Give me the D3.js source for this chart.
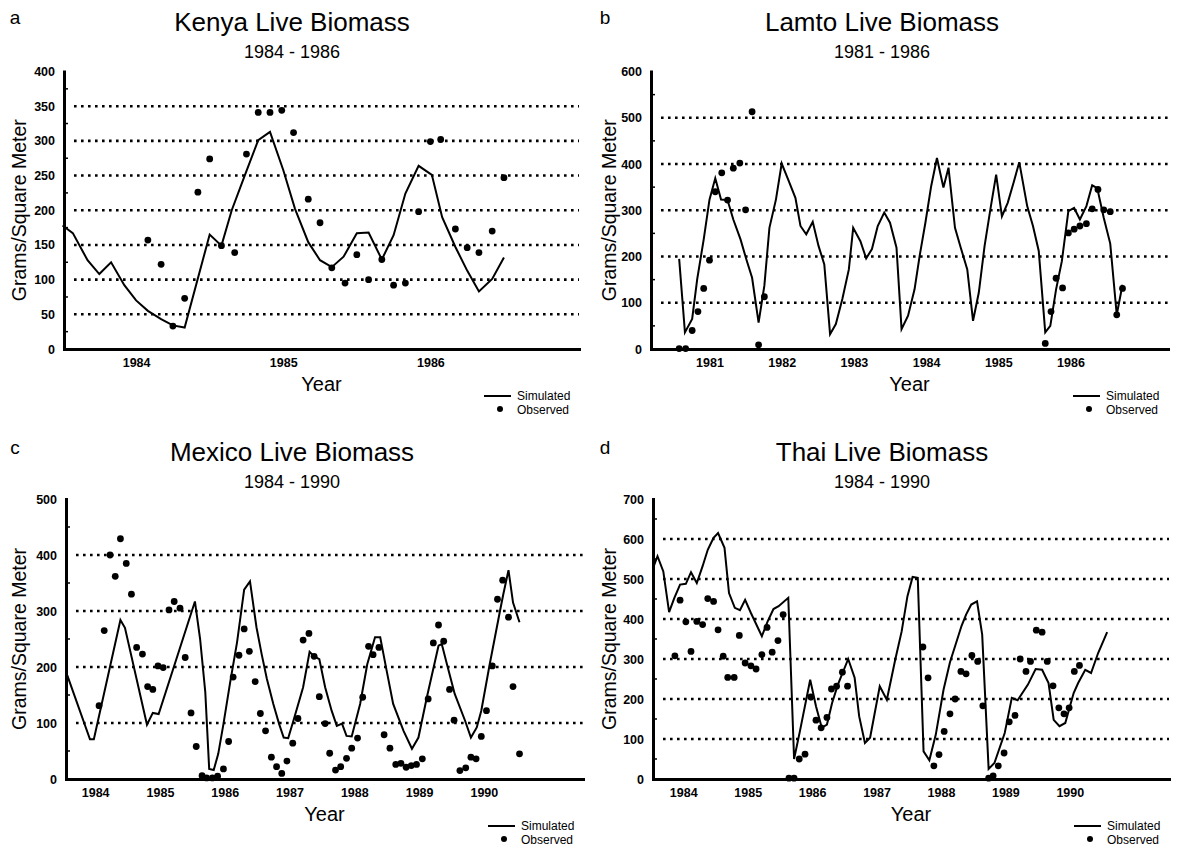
<!DOCTYPE html>
<html>
<head>
<meta charset="utf-8">
<script src="https://cdn.jsdelivr.net/npm/d3@7"></script>
<style>
  body { margin: 0; background: #fff; }
  svg { display: block; font-family: "Liberation Sans", Arial, Helvetica, sans-serif; }
</style>
</head>
<body>
<svg id="chart" width="1181" height="853"></svg>
<script>
// ---------------- data ----------------
// each entry is [decimal year, grams per square meter]

var kenyaSimulated = [[1983.50,178],[1983.57,167],[1983.67,128],[1983.75,108],[1983.83,125],[1983.92,92],[1984.00,70],[1984.08,55],[1984.17,43],[1984.25,34],[1984.33,31],[1984.50,165],[1984.58,149],[1984.65,200],[1984.74,251],[1984.83,301],[1984.91,313],[1985.00,258],[1985.08,202],[1985.17,154],[1985.25,128],[1985.33,118],[1985.41,133],[1985.50,167],[1985.58,168],[1985.67,129],[1985.75,164],[1985.83,224],[1985.92,264],[1986.01,251],[1986.08,190],[1986.17,147],[1986.25,113],[1986.33,83],[1986.42,101],[1986.50,132]];
var kenyaObserved = [[1984.08,157],[1984.17,122],[1984.25,33],[1984.33,73],[1984.42,226],[1984.50,274],[1984.58,149],[1984.67,139],[1984.75,281],[1984.83,341],[1984.91,341],[1984.99,344],[1985.07,312],[1985.17,216],[1985.25,182],[1985.33,117],[1985.42,95],[1985.50,136],[1985.58,100],[1985.67,129],[1985.75,92],[1985.83,95],[1985.92,198],[1986.00,299],[1986.07,302],[1986.17,173],[1986.25,146],[1986.33,139],[1986.42,170],[1986.50,247]];

var lamtoSimulated = [[1980.58,195],[1980.66,36],[1980.76,65],[1980.83,151],[1980.92,237],[1981.00,323],[1981.08,369],[1981.16,323],[1981.25,322],[1981.33,280],[1981.43,237],[1981.51,194],[1981.59,154],[1981.68,57],[1981.76,137],[1981.83,262],[1981.92,323],[1982.00,401],[1982.09,366],[1982.19,327],[1982.26,266],[1982.34,248],[1982.43,275],[1982.51,223],[1982.59,183],[1982.67,32],[1982.75,54],[1982.84,108],[1982.93,172],[1982.99,262],[1983.09,233],[1983.17,196],[1983.25,216],[1983.33,266],[1983.42,295],[1983.50,273],[1983.59,219],[1983.66,43],[1983.75,72],[1983.84,129],[1983.91,201],[1983.99,273],[1984.07,352],[1984.15,413],[1984.24,349],[1984.31,392],[1984.40,262],[1984.48,219],[1984.57,172],[1984.65,61],[1984.73,122],[1984.81,223],[1984.89,302],[1984.97,377],[1985.05,287],[1985.13,316],[1985.21,359],[1985.29,404],[1985.40,309],[1985.48,266],[1985.56,212],[1985.65,36],[1985.72,50],[1985.80,129],[1985.88,190],[1985.97,298],[1986.05,305],[1986.13,280],[1986.22,309],[1986.30,354],[1986.37,348],[1986.46,284],[1986.55,228],[1986.64,74],[1986.72,139]];
var lamtoObserved = [[1980.58,1],[1980.67,1],[1980.76,40],[1980.84,81],[1980.92,131],[1981.00,192],[1981.08,340],[1981.17,381],[1981.25,322],[1981.33,391],[1981.42,402],[1981.50,301],[1981.59,513],[1981.68,9],[1981.76,113],[1985.65,12],[1985.73,81],[1985.80,153],[1985.89,132],[1985.97,251],[1986.05,259],[1986.13,266],[1986.22,271],[1986.30,303],[1986.38,345],[1986.46,301],[1986.55,297],[1986.64,74],[1986.72,131]];

var mexicoSimulated = [[1983.57,185],[1983.92,71],[1983.98,71],[1984.39,284],[1984.46,270],[1984.80,97],[1984.89,118],[1984.98,116],[1985.54,317],[1985.62,250],[1985.70,155],[1985.76,18],[1985.83,16],[1985.90,45],[1985.98,98],[1986.08,170],[1986.19,244],[1986.30,338],[1986.39,353],[1986.49,271],[1986.57,223],[1986.65,179],[1986.75,134],[1986.84,98],[1986.91,74],[1986.98,73],[1987.06,104],[1987.21,164],[1987.31,227],[1987.38,219],[1987.46,214],[1987.55,164],[1987.65,122],[1987.73,95],[1987.81,99],[1987.88,77],[1987.96,76],[1988.09,134],[1988.20,205],[1988.32,253],[1988.40,253],[1988.50,193],[1988.60,134],[1988.76,86],[1988.89,54],[1988.99,74],[1989.12,146],[1989.30,238],[1989.35,241],[1989.43,205],[1989.55,152],[1989.71,104],[1989.80,74],[1989.89,92],[1989.96,122],[1990.09,205],[1990.25,301],[1990.30,330],[1990.38,373],[1990.45,315],[1990.55,280]];
var mexicoObserved = [[1984.06,131],[1984.14,265],[1984.23,400],[1984.31,362],[1984.39,429],[1984.48,385],[1984.56,330],[1984.64,235],[1984.73,223],[1984.81,165],[1984.89,160],[1984.97,202],[1985.05,199],[1985.14,302],[1985.22,317],[1985.31,305],[1985.39,217],[1985.48,118],[1985.56,58],[1985.65,6],[1985.72,2],[1985.81,2],[1985.89,5],[1985.98,18],[1986.06,67],[1986.13,182],[1986.22,221],[1986.30,268],[1986.38,228],[1986.47,174],[1986.55,117],[1986.63,86],[1986.72,39],[1986.80,22],[1986.88,10],[1986.96,32],[1987.05,64],[1987.13,108],[1987.21,248],[1987.30,260],[1987.38,219],[1987.46,147],[1987.55,99],[1987.62,46],[1987.71,16],[1987.79,22],[1987.88,37],[1987.96,55],[1988.05,73],[1988.13,146],[1988.22,237],[1988.29,222],[1988.38,235],[1988.46,79],[1988.55,55],[1988.64,26],[1988.72,28],[1988.80,21],[1988.88,24],[1988.96,26],[1989.05,36],[1989.14,143],[1989.22,243],[1989.30,275],[1989.38,246],[1989.47,160],[1989.54,105],[1989.63,15],[1989.72,20],[1989.80,39],[1989.88,36],[1989.96,76],[1990.04,122],[1990.13,202],[1990.21,321],[1990.29,355],[1990.38,289],[1990.45,165],[1990.55,45]];

var thaiSimulated = [[1983.53,527],[1983.60,557],[1983.69,519],[1983.78,417],[1983.86,452],[1983.95,486],[1984.04,488],[1984.12,517],[1984.21,490],[1984.30,532],[1984.38,573],[1984.47,603],[1984.54,615],[1984.64,578],[1984.71,465],[1984.80,428],[1984.88,422],[1984.96,448],[1985.05,415],[1985.22,357],[1985.31,394],[1985.40,425],[1985.48,432],[1985.63,453],[1985.72,50],[1985.81,119],[1985.97,248],[1986.06,182],[1986.15,128],[1986.23,136],[1986.31,190],[1986.40,236],[1986.56,300],[1986.66,253],[1986.73,157],[1986.82,90],[1986.90,103],[1987.05,232],[1987.16,198],[1987.29,298],[1987.39,369],[1987.48,457],[1987.56,505],[1987.64,503],[1987.73,69],[1987.82,47],[1987.92,111],[1988.04,223],[1988.14,292],[1988.32,383],[1988.39,411],[1988.47,436],[1988.56,444],[1988.64,361],[1988.74,25],[1988.83,40],[1988.99,115],[1989.10,203],[1989.19,197],[1989.35,236],[1989.47,275],[1989.57,273],[1989.67,240],[1989.75,148],[1989.84,132],[1989.93,140],[1990.06,215],[1990.13,240],[1990.24,273],[1990.33,265],[1990.44,315],[1990.58,367]];
var thaiObserved = [[1983.87,308],[1983.95,447],[1984.04,393],[1984.12,319],[1984.21,394],[1984.30,386],[1984.38,451],[1984.47,444],[1984.54,373],[1984.62,307],[1984.69,254],[1984.79,254],[1984.87,359],[1984.96,290],[1985.05,283],[1985.13,275],[1985.22,311],[1985.30,379],[1985.38,317],[1985.47,346],[1985.55,411],[1985.64,2],[1985.72,2],[1985.80,50],[1985.89,62],[1985.98,205],[1986.06,147],[1986.14,128],[1986.23,154],[1986.30,225],[1986.38,232],[1986.47,267],[1986.55,232],[1987.72,330],[1987.80,253],[1987.89,33],[1987.97,61],[1988.05,119],[1988.14,163],[1988.22,200],[1988.31,269],[1988.39,263],[1988.48,309],[1988.57,294],[1988.65,183],[1988.74,2],[1988.81,8],[1988.89,33],[1988.98,65],[1989.06,143],[1989.15,159],[1989.23,300],[1989.32,269],[1989.39,294],[1989.48,372],[1989.57,367],[1989.65,294],[1989.74,233],[1989.83,178],[1989.91,163],[1989.99,178],[1990.07,269],[1990.15,284]];

// tick labels
var kenyaYears = [1984, 1985, 1986];
var lamtoYears = [1981, 1982, 1983, 1984, 1985, 1986];
var mexicoYears = [1984, 1985, 1986, 1987, 1988, 1989, 1990];
var thaiYears = [1984, 1985, 1986, 1987, 1988, 1989, 1990];

var kenyaValueTicks = [0, 50, 100, 150, 200, 250, 300, 350, 400];
var lamtoValueTicks = [0, 100, 200, 300, 400, 500, 600];
var mexicoValueTicks = [0, 100, 200, 300, 400, 500];
var thaiValueTicks = [0, 100, 200, 300, 400, 500, 600, 700];

var kenyaGrid = [50, 100, 150, 200, 250, 300, 350];
var lamtoGrid = [100, 200, 300, 400, 500];
var mexicoGrid = [100, 200, 300, 400];
var thaiGrid = [100, 200, 300, 400, 500, 600];

var kenyaMinor = [25, 75, 125, 175, 225, 275, 325, 375];
var lamtoMinor = [50, 150, 250, 350, 450, 550];
var mexicoMinor = [50, 150, 250, 350, 450];
var thaiMinor = [50, 150, 250, 350, 450, 550, 650];

var svg = d3.select("#chart");
var FONT = '"Liberation Sans", Arial, Helvetica, sans-serif';

// panel geometry (pixels) - kept apart from the data
var panels = [
  {letter: "a", title: "Kenya Live Biomass", sub: "1984 - 1986", ox: 0, oy: 0,
   left: 64, right: 579, bottom: 349, top: 71.5, xDomain: [1983.51, 1987.01], yMax: 400,
   sim: kenyaSimulated, obs: kenyaObserved, years: kenyaYears, yTicks: kenyaValueTicks, grid: kenyaGrid, minor: kenyaMinor},
  {letter: "b", title: "Lamto Live Biomass", sub: "1981 - 1986", ox: 590, oy: 0,
   left: 651, right: 1168, bottom: 349, top: 71.5, xDomain: [1980.19, 1987.35], yMax: 600,
   sim: lamtoSimulated, obs: lamtoObserved, years: lamtoYears, yTicks: lamtoValueTicks, grid: lamtoGrid, minor: lamtoMinor},
  {letter: "c", title: "Mexico Live Biomass", sub: "1984 - 1990", ox: 0, oy: 430,
   left: 66, right: 583, bottom: 779, top: 499, xDomain: [1983.55, 1991.53], yMax: 500,
   sim: mexicoSimulated, obs: mexicoObserved, years: mexicoYears, yTicks: mexicoValueTicks, grid: mexicoGrid, minor: mexicoMinor},
  {letter: "d", title: "Thai Live Biomass", sub: "1984 - 1990", ox: 590, oy: 430,
   left: 653, right: 1169, bottom: 779, top: 499, xDomain: [1983.53, 1991.54], yMax: 700,
   sim: thaiSimulated, obs: thaiObserved, years: thaiYears, yTicks: thaiValueTicks, grid: thaiGrid, minor: thaiMinor}
];

panels.forEach(drawPanel);

function drawPanel(p) {
  var g = svg.append("g");
  var x = d3.scaleLinear().domain(p.xDomain).range([p.left, p.right]);
  var y = d3.scaleLinear().domain([0, p.yMax]).range([p.bottom, p.top]);

  // panel letter, title, subtitle
  g.append("text").attr("x", p.ox + 15).attr("y", p.oy + 24)
    .attr("text-anchor", "middle").style("font-size", "19px").text(p.letter);
  g.append("text").attr("x", p.ox + 292).attr("y", p.oy + 31)
    .attr("text-anchor", "middle").style("font-size", "26px").text(p.title);
  g.append("text").attr("x", p.ox + 292).attr("y", p.oy + 58)
    .attr("text-anchor", "middle").style("font-size", "18px").text(p.sub);

  // dotted gridlines
  g.selectAll(".grid").data(p.grid).enter().append("line")
    .attr("x1", p.left + 10).attr("x2", p.right)
    .attr("y1", function(d) { return y(d); })
    .attr("y2", function(d) { return y(d); })
    .attr("stroke", "#000").attr("stroke-width", 2.6)
    .attr("stroke-dasharray", "2.6,4.4");

  // short inward ticks between the gridlines
  g.selectAll(".minor").data(p.minor).enter().append("line")
    .attr("x1", p.left).attr("x2", p.left + 4)
    .attr("y1", function(d) { return y(d); })
    .attr("y2", function(d) { return y(d); })
    .attr("stroke", "#000").attr("stroke-width", 1.5);

  // y axis
  var yAxis = d3.axisLeft(y).tickValues(p.yTicks).tickSize(0).tickSizeOuter(0)
    .tickPadding(9).tickFormat(d3.format("d"));
  var ya = g.append("g").attr("transform", "translate(" + p.left + ",0)").call(yAxis);
  ya.select(".domain").attr("stroke-width", 3).attr("stroke-linecap", "square");
  ya.selectAll("text").style("font-size", "12.5px").style("font-weight", "bold")
    .style("font-family", FONT);

  // x axis
  var xAxis = d3.axisBottom(x).tickValues(p.years).tickSize(0).tickSizeOuter(0)
    .tickPadding(9.5).tickFormat(d3.format("d"));
  var xa = g.append("g").attr("transform", "translate(0," + p.bottom + ")").call(xAxis);
  xa.select(".domain").attr("stroke-width", 3).attr("stroke-linecap", "square");
  xa.selectAll("text").style("font-size", "12.5px").style("font-weight", "bold")
    .style("font-family", FONT);

  // axis titles
  g.append("text")
    .attr("transform", "translate(" + (p.ox + 26) + "," + ((p.top + p.bottom) / 2) + ") rotate(-90)")
    .attr("text-anchor", "middle").style("font-size", "19.5px").text("Grams/Square Meter");
  g.append("text").attr("x", (p.left + p.right) / 2).attr("y", p.bottom + 42)
    .attr("text-anchor", "middle").style("font-size", "20px").text("Year");

  // simulated line
  var line = d3.line()
    .x(function(d) { return x(d[0]); })
    .y(function(d) { return y(d[1]); });
  g.append("path").attr("d", line(p.sim))
    .attr("fill", "none").attr("stroke", "#000").attr("stroke-width", 2);

  // observed points
  g.selectAll(".obs").data(p.obs).enter().append("circle")
    .attr("cx", function(d) { return x(d[0]); })
    .attr("cy", function(d) { return y(d[1]); })
    .attr("r", 3.4).attr("fill", "#000");

  // legend
  g.append("line").attr("x1", p.right - 95).attr("x2", p.right - 68)
    .attr("y1", p.bottom + 47).attr("y2", p.bottom + 47)
    .attr("stroke", "#000").attr("stroke-width", 2);
  g.append("text").attr("x", p.right - 62).attr("y", p.bottom + 50.5)
    .style("font-size", "12px").text("Simulated");
  g.append("circle").attr("cx", p.right - 79).attr("cy", p.bottom + 60)
    .attr("r", 3).attr("fill", "#000");
  g.append("text").attr("x", p.right - 62).attr("y", p.bottom + 64.5)
    .style("font-size", "12px").text("Observed");
}
</script>
</body>
</html>
